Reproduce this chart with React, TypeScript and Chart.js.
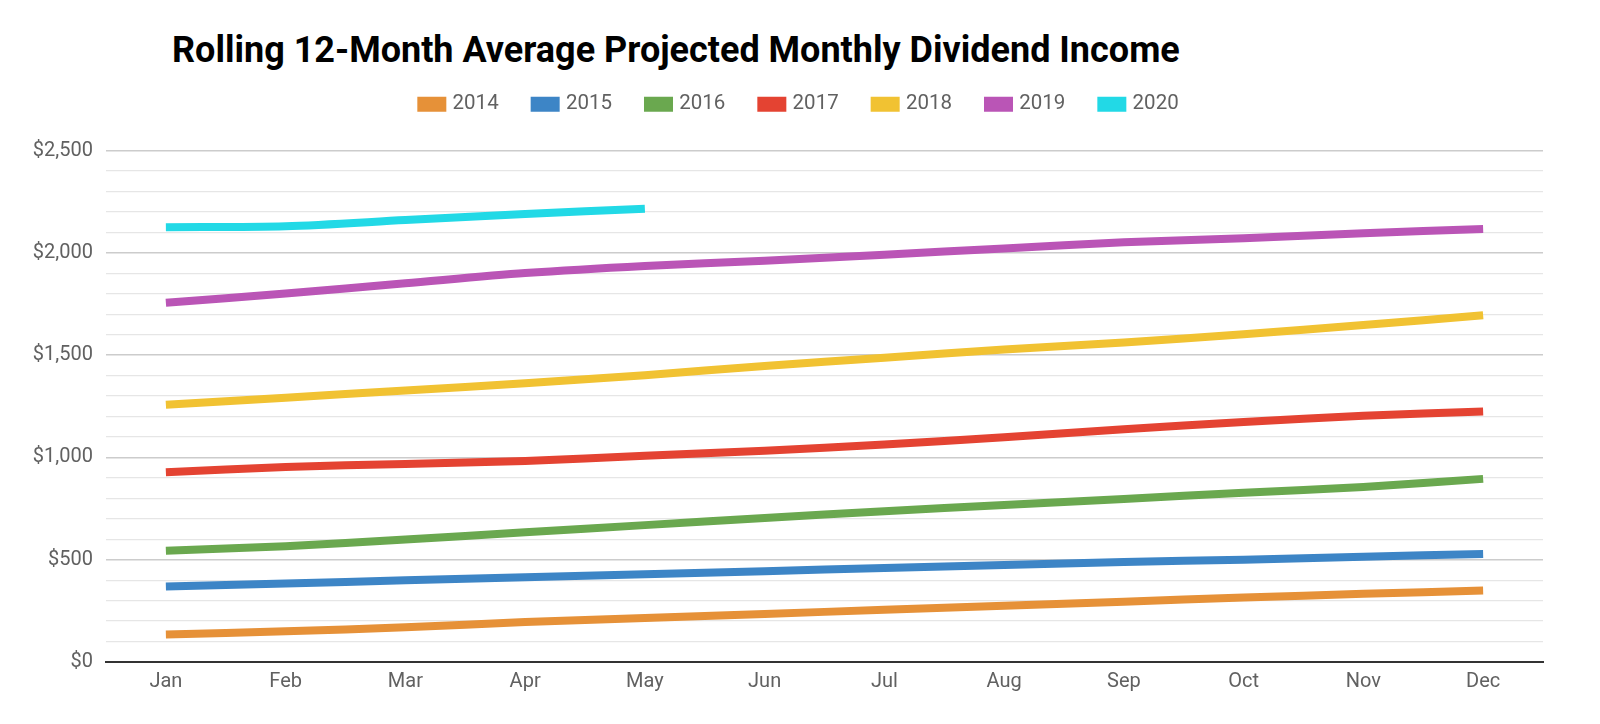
import React, { useEffect, useRef } from "react";
import { Chart, registerables } from "chart.js";

Chart.register(...registerables);

const months = ["Jan", "Feb", "Mar", "Apr", "May", "Jun", "Jul", "Aug", "Sep", "Oct", "Nov", "Dec"];
const years = ["2014", "2015", "2016", "2017", "2018", "2019", "2020"];
const colors = ["#E69138", "#3D85C6", "#6AA84F", "#E44332", "#F1C232", "#BA55B6", "#22D9E6"];

const s2014 = [135, 150, 170, 195, 215, 235, 255, 275, 295, 315, 333, 349];
const s2015 = [369, 384, 399, 414, 429, 444, 459, 474, 489, 500, 515, 528];
const s2016 = [544, 566, 599, 634, 669, 704, 737, 767, 797, 827, 855, 895];
const s2017 = [928, 953, 968, 983, 1008, 1033, 1063, 1098, 1138, 1173, 1203, 1224];
const s2018 = [1257, 1292, 1327, 1362, 1402, 1447, 1487, 1527, 1562, 1602, 1647, 1695];
const s2019 = [1756, 1801, 1851, 1901, 1936, 1961, 1991, 2021, 2051, 2071, 2096, 2116];
const s2020 = [2125, 2130, 2160, 2190, 2215];

const seriesList = [s2014, s2015, s2016, s2017, s2018, s2019, s2020];

const yMax = 2500;
const yStep = 100;
const yMajor = 500;

const title = "Rolling 12-Month Average Projected Monthly Dividend Income";

export default function App() {
  const ref = useRef<HTMLCanvasElement | null>(null);

  useEffect(() => {
    if (!ref.current) return;
    const legendSpace = {
      id: "legendSpace",
      beforeInit(chart: any) {
        const orig = chart.legend.fit;
        chart.legend.fit = function () {
          orig.bind(chart.legend)();
          this.height += 26;
        };
      },
      afterLayout(chart: any) {
        const lg = chart.legend;
        if (lg) {
          lg.left = 0;
          lg.right = chart.width;
          lg.width = chart.width;
        }
      },
    };
    const chart = new Chart(ref.current, {
      type: "line",
      data: {
        labels: months,
        datasets: years.map((y, i) => ({
          label: y,
          data: seriesList[i],
          borderColor: colors[i],
          backgroundColor: colors[i],
          borderWidth: 8,
          pointRadius: 0,
          pointHoverRadius: 0,
          tension: 0.3,
          fill: false,
        })),
      },
      options: {
        animation: false,
        responsive: false,
        layout: { padding: { top: 58, right: 57, bottom: 22, left: 0 } },
        plugins: {
          tooltip: { enabled: false },
          legend: {
            position: "top",
            align: "center",
            labels: {
              boxWidth: 21,
              boxHeight: 7,
              padding: 36,
              color: "#616161",
              font: { family: "Roboto", size: 20.5 },
            },
          },
        },
        scales: {
          x: {
            offset: true,
            grid: { display: false, drawTicks: false },
            border: { display: true, color: "#333333", width: 2 },
            ticks: {
              color: "#616161",
              font: { family: "Roboto", size: 20 },
              padding: 8,
              maxRotation: 0,
            },
          },
          y: {
            min: 0,
            max: yMax,
            afterFit: (s: any) => {
              s.width = 106;
            },
            border: { display: false },
            grid: {
              drawTicks: false,
              color: (ctx: any) => {
                const v = ctx.tick ? ctx.tick.value : 0;
                if (v === 0) return "rgba(0,0,0,0)";
                return v % yMajor === 0 ? "#cccccc" : "#e6e6e6";
              },
              lineWidth: (ctx: any) => {
                const v = ctx.tick ? ctx.tick.value : 0;
                return v % yMajor === 0 ? 1.5 : 1.2;
              },
            },
            ticks: {
              stepSize: yStep,
              autoSkip: false,
              padding: 13,
              color: "#616161",
              font: { family: "Roboto", size: 20 },
              callback: (v: any) =>
                Number(v) % yMajor === 0 ? "$" + Number(v).toLocaleString("en-US") : "",
            },
          },
        },
      },
      plugins: [legendSpace],
    });
    return () => chart.destroy();
  }, []);

  return (
    <div style={{ position: "absolute", left: 0, top: 0, width: 1600, height: 724, background: "#fff" }}>
      <div
        style={{
          position: "absolute",
          left: 172,
          top: 29,
          fontFamily: "Roboto",
          fontWeight: 700,
          fontSize: 36,
          color: "#000",
          whiteSpace: "nowrap",
        }}
      >
        {title}
      </div>
      <canvas ref={ref} width={1600} height={724} style={{ position: "absolute", left: 0, top: 0 }} />
    </div>
  );
}
